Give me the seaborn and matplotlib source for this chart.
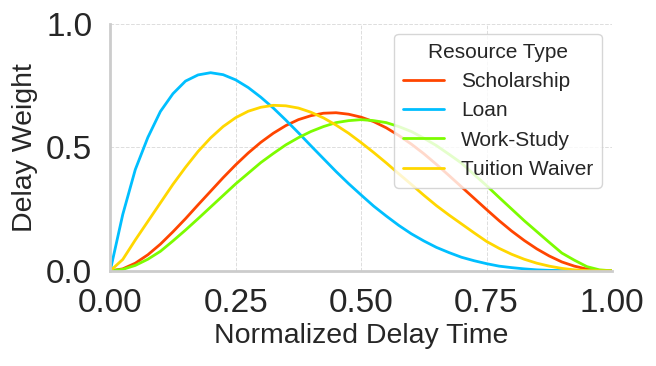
import numpy as np
import pandas as pd
import matplotlib
matplotlib.use('Agg')
import matplotlib.pyplot as plt
import seaborn as sns

# values (step 0.025 on the x axis)
delay_time = [0.000, 0.025, 0.050, 0.075, 0.100, 0.125, 0.150, 0.175, 0.200, 0.225,
              0.250, 0.275, 0.300, 0.325, 0.350, 0.375, 0.400, 0.425, 0.450, 0.475,
              0.500, 0.525, 0.550, 0.575, 0.600, 0.625, 0.650, 0.675, 0.700, 0.725,
              0.750, 0.775, 0.800, 0.825, 0.850, 0.875, 0.900, 0.925, 0.950, 0.975, 1.000]

scholarship = [0.000, 0.008, 0.031, 0.065, 0.108, 0.158, 0.211, 0.267, 0.322, 0.377,
               0.429, 0.477, 0.520, 0.557, 0.588, 0.612, 0.628, 0.638, 0.640, 0.634,
               0.622, 0.604, 0.579, 0.548, 0.513, 0.474, 0.431, 0.386, 0.340, 0.294,
               0.248, 0.203, 0.161, 0.123, 0.089, 0.060, 0.036, 0.019, 0.007, 0.001, 0.000]
loan = [0.000, 0.228, 0.410, 0.540, 0.645, 0.717, 0.768, 0.793, 0.802, 0.794,
        0.773, 0.742, 0.703, 0.659, 0.610, 0.559, 0.506, 0.454, 0.402, 0.353,
        0.307, 0.262, 0.222, 0.184, 0.150, 0.121, 0.095, 0.074, 0.055, 0.041,
        0.029, 0.019, 0.013, 0.008, 0.004, 0.002, 0.001, 0.000, 0.000, 0.000, 0.000]
work_study = [0.000, 0.006, 0.022, 0.047, 0.079, 0.121, 0.165, 0.211, 0.258, 0.305,
              0.352, 0.395, 0.438, 0.475, 0.510, 0.539, 0.564, 0.584, 0.600, 0.608,
              0.612, 0.608, 0.600, 0.584, 0.564, 0.537, 0.507, 0.472, 0.436, 0.390,
              0.345, 0.297, 0.250, 0.203, 0.159, 0.115, 0.072, 0.043, 0.017, 0.004, 0.000]
tuition_waiver = [0.000, 0.046, 0.125, 0.200, 0.275, 0.350, 0.419, 0.483, 0.538, 0.584,
                  0.620, 0.646, 0.662, 0.670, 0.668, 0.659, 0.642, 0.619, 0.590, 0.557,
                  0.519, 0.479, 0.437, 0.393, 0.350, 0.306, 0.264, 0.226, 0.190, 0.154,
                  0.119, 0.091, 0.067, 0.047, 0.031, 0.019, 0.010, 0.004, 0.001, 0.000, 0.000]

resource_types = ['Scholarship', 'Loan', 'Work-Study', 'Tuition Waiver']
colors = ['#FF4500', '#00BFFF', '#7CFC00', '#FFD700']

series = [scholarship, loan, work_study, tuition_waiver]
df = pd.concat([
    pd.DataFrame({'Normalized Delay Time': delay_time, 'Delay Weight': vals, 'Resource Type': name})
    for name, vals in zip(resource_types, series)
], ignore_index=True)

sns.set_theme(style='whitegrid')
plt.rcParams['font.family'] = ['Liberation Sans', 'DejaVu Sans']

fig, ax = plt.subplots(figsize=(6.56, 3.66), dpi=100)
fig.subplots_adjust(left=0.168, right=0.933, top=0.935, bottom=0.26)

sns.lineplot(data=df, x='Normalized Delay Time', y='Delay Weight', hue='Resource Type',
             hue_order=resource_types, palette=colors, linewidth=2, ax=ax)

ax.set_xlim(0, 1)
ax.set_ylim(0, 1)
ax.set_xticks([0, 0.25, 0.5, 0.75, 1.0])
ax.set_xticklabels(['0.00', '0.25', '0.50', '0.75', '1.00'])
ax.set_yticks([0, 0.5, 1.0])
ax.set_yticklabels(['0.0', '0.5', '1.0'])
ax.tick_params(labelsize=24, length=0, colors='#262626')
ax.tick_params(axis='x', pad=12)
ax.tick_params(axis='y', pad=13)
ax.set_xlabel('Normalized Delay Time', fontsize=20.5, color='#262626', labelpad=3)
ax.set_ylabel('Delay Weight', fontsize=20.5, color='#262626', labelpad=6)

ax.grid(True, linestyle='--', linewidth=0.7, color='#dddddd')
sns.despine(ax=ax)
for side in ['left', 'bottom']:
    ax.spines[side].set_color('#cccccc')
    ax.spines[side].set_linewidth(2)

leg = ax.legend(title='Resource Type', loc='upper right', fontsize=15, title_fontsize=15,
                frameon=True, framealpha=0.8)
leg.get_frame().set_edgecolor('#cccccc')

plt.savefig('out.png', dpi=100)
